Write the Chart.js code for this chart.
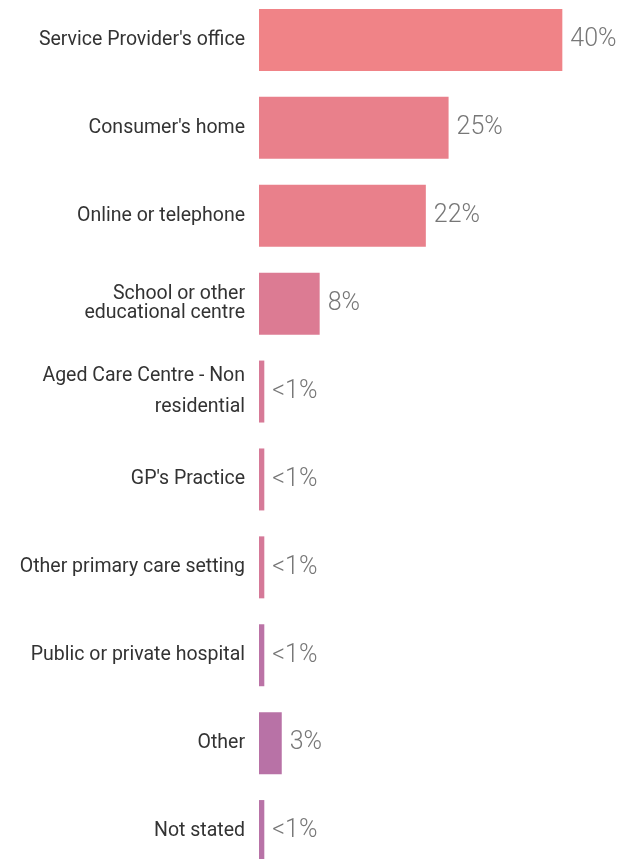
<!DOCTYPE html>
<html>
<head>
<meta charset="utf-8">
<script src="https://cdn.jsdelivr.net/npm/chart.js@4"></script>
<style>
  html, body { margin: 0; padding: 0; background: #fff; overflow: hidden; }
  body { width: 632px; height: 859px; position: relative; }
  #wrap { position: absolute; left: 0; top: -4px; width: 632px; height: 879px; }
</style>
</head>
<body>
<div id="wrap"><canvas id="settingChart"></canvas></div>
<script>
// service delivery settings, share of services (%)
const settings = [
  "Service Provider's office",
  "Consumer's home",
  "Online or telephone",
  ["School or other", "educational centre"],
  ["Aged Care Centre - Non", "residential"],
  "GP's Practice",
  "Other primary care setting",
  "Public or private hospital",
  "Other",
  "Not stated"
];
const shares = [40, 25, 22, 8, 0.7, 0.7, 0.7, 0.7, 3, 0.7];
const shareLabels = ["40%", "25%", "22%", "8%", "<1%", "<1%", "<1%", "<1%", "3%", "<1%"];

const barColours = [
  "#f08387", "#e9808b", "#e9808b", "#dc7b93", "#d77a97",
  "#d67a98", "#d57998", "#bb73a6", "#b872a6", "#b873a7"
];

// writes the percentage just past the end of each bar
const valueLabels = {
  id: "valueLabels",
  afterDatasetsDraw(chart) {
    const ctx = chart.ctx;
    const meta = chart.getDatasetMeta(0);
    ctx.save();
    ctx.font = "300 25px Roboto";
    ctx.fillStyle = "#777";
    ctx.textAlign = "left";
    ctx.textBaseline = "middle";
    meta.data.forEach((bar, i) => {
      ctx.fillText(shareLabels[i], bar.x + 8, bar.y);
    });
    ctx.restore();
  }
};

const ctx = document.getElementById("settingChart").getContext("2d");
new Chart(ctx, {
  type: "bar",
  data: {
    labels: settings,
    datasets: [{
      data: shares,
      backgroundColor: barColours,
      borderWidth: 0,
      categoryPercentage: 1,
      barPercentage: 0.705
    }]
  },
  options: {
    indexAxis: "y",
    responsive: true,
    maintainAspectRatio: false,
    animation: false,
    layout: { padding: { left: 0, right: 9, top: 0, bottom: 0 } },
    plugins: {
      legend: { display: false },
      tooltip: { enabled: false }
    },
    scales: {
      x: {
        display: false,
        min: 0,
        max: 48
      },
      y: {
        grid: { display: false, drawTicks: false },
        border: { display: false },
        afterFit(scale) {
          scale.width = 259;
          scale.paddingTop = 0;
          scale.paddingBottom = 0;
        },
        ticks: {
          padding: 14,
          color: "#333",
          font(c) {
            // the two wrapped labels use different line spacing
            if (c.index === 3) return { family: "Roboto", size: 19.5, lineHeight: 0.98 };
            if (c.index === 4) return { family: "Roboto", size: 19.5, lineHeight: 1.55 };
            return { family: "Roboto", size: 19.5 };
          }
        }
      }
    }
  },
  plugins: [valueLabels]
});
</script>
</body>
</html>
